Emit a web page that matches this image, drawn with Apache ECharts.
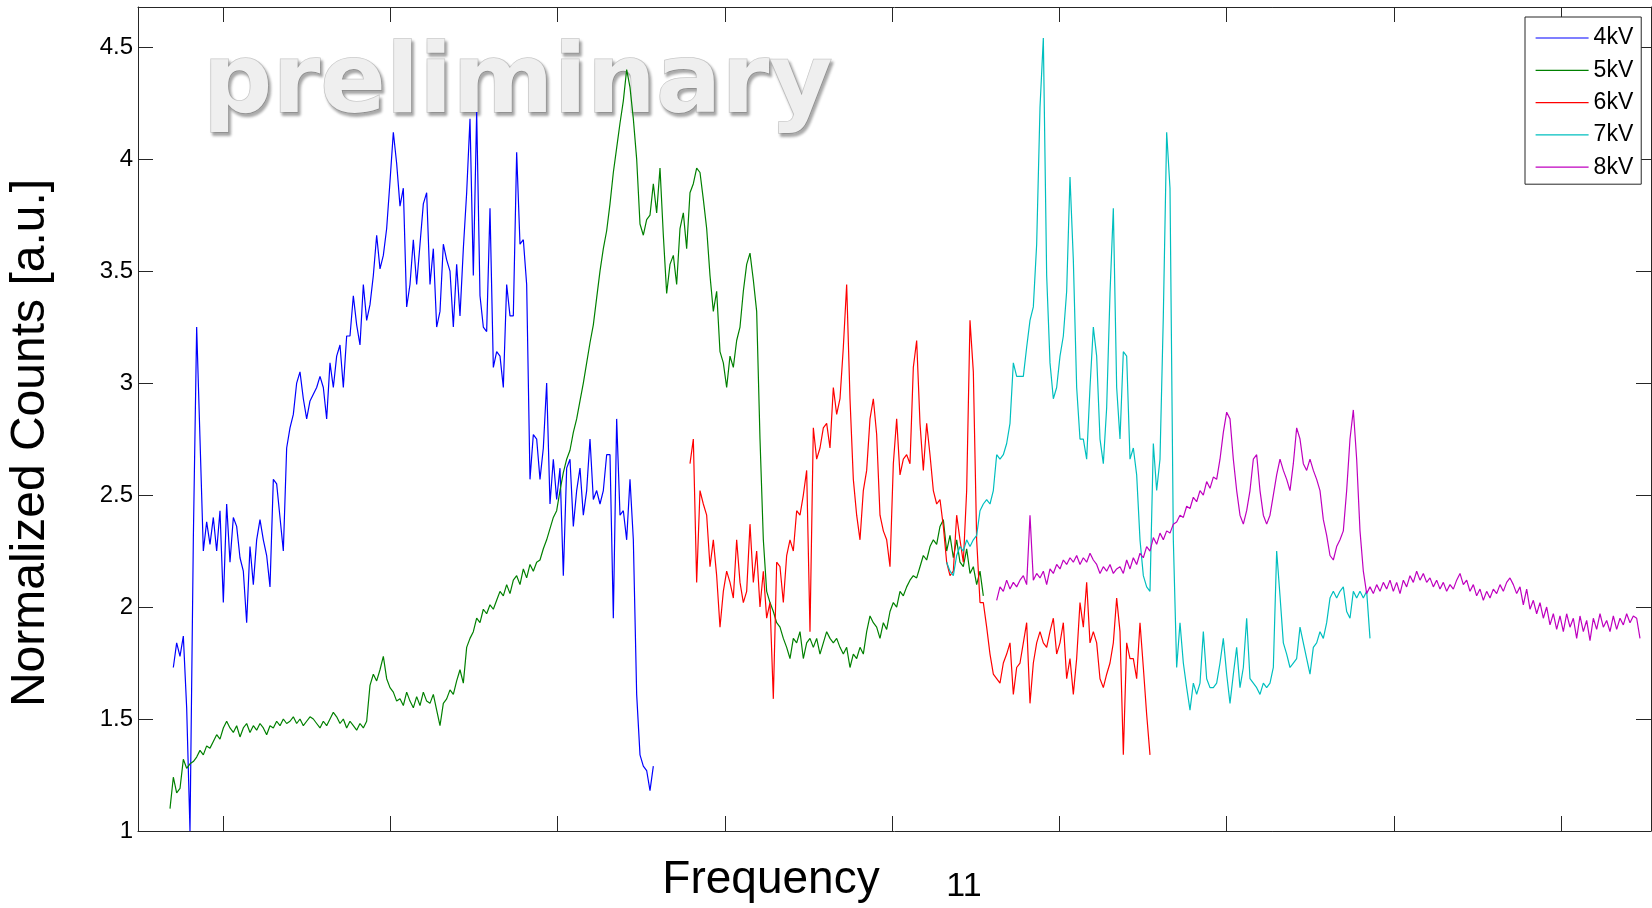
<!DOCTYPE html>
<html><head><meta charset="utf-8">
<script src="https://cdn.jsdelivr.net/npm/echarts@6/dist/echarts.min.js"></script>
<style>html,body{margin:0;padding:0;background:#fff}#c{width:1652px;height:908px}</style>
</head><body><div id="c"></div>
<script>
// ---- data ----
const seriesNames = ['4kV', '5kV', '6kV', '7kV', '8kV'];
const freqStep = 0.01993;
const freqStart = [0.70304, 0.68311, 3.79219, 5.32680, 5.62575];
const xTicks = [1, 2, 3, 4, 5, 6, 7, 8, 9];
const yTicks = [1, 1.5, 2, 2.5, 3, 3.5, 4, 4.5];

const kv4 = [
1.73,1.84,1.78,1.87,1.55,1.00,2.30,3.25,2.75,2.25,
2.38,2.28,2.40,2.25,2.43,2.02,2.46,2.20,2.40,2.36,
2.22,2.16,1.93,2.27,2.10,2.30,2.39,2.30,2.23,2.09,
2.57,2.55,2.40,2.25,2.71,2.80,2.86,3.00,3.05,2.93,
2.84,2.92,2.95,2.98,3.03,2.98,2.84,3.09,2.98,3.12,
3.17,2.98,3.21,3.21,3.39,3.26,3.17,3.44,3.28,3.35,
3.48,3.66,3.51,3.57,3.69,3.90,4.12,3.98,
3.79,3.87,3.34,3.44,3.64,3.44,3.62,3.80,3.85,3.44,
3.60,3.25,3.32,3.62,3.55,3.50,3.25,3.53,3.30,3.60,
3.85,4.18,3.48,4.21,3.39,3.25,3.23,3.78,3.07,3.14,
3.12,2.98,3.44,3.30,3.30,4.03,3.62,3.64,3.44,2.57,
2.77,2.75,2.57,2.71,3.00,2.46,2.66,2.48,2.62,2.14,
2.62,2.66,2.36,2.52,2.62,2.41,2.52,2.75,2.48,2.52,
2.46,2.52,2.68,2.68,1.95,2.84,2.41,2.43,2.30,2.57,
2.30,1.61,
1.34,1.29,1.27,1.18,1.29
];

const kv5 = [
1.10,1.24,1.17,1.19,1.32,1.28,1.30,1.31,1.33,1.36,
1.34,1.38,1.37,1.40,1.43,1.41,1.46,1.49,1.46,1.44,
1.47,1.42,1.46,1.48,1.44,1.47,1.45,1.48,1.46,1.43,
1.47,1.46,1.49,1.47,1.50,1.48,1.49,1.51,1.48,1.50,
1.47,1.49,1.51,1.50,1.48,1.46,1.49,1.47,1.50,1.53,
1.51,1.48,1.50,1.46,1.49,1.47,1.45,1.48,1.46,1.49,
1.65,1.70,1.67,1.72,1.78,1.68,1.64,1.62,1.58,
1.59,1.56,1.62,1.58,1.55,1.60,1.56,1.62,1.58,1.57,
1.61,1.54,1.47,1.57,1.59,1.63,1.61,1.67,1.72,1.66,
1.82,1.86,1.89,1.95,1.93,1.99,1.97,2.01,1.99,2.03,
2.07,2.05,2.10,2.06,2.12,2.14,2.10,2.17,2.13,2.19,
2.16,2.20,2.21,2.26,2.30,2.35,2.40,2.43,2.52,2.60,
2.66,2.70,2.78,2.84,2.92,3.00,3.09,3.18,3.26,3.38,
3.50,3.60,3.68,3.80,3.94,4.05,4.16,4.26,4.40,4.32,
4.18,4.00,
3.71,3.66,3.73,3.75,3.89,3.76,3.96,3.66,3.40,3.53,
3.57,3.44,3.69,3.76,3.60,3.85,3.89,3.96,3.94,3.82,
3.69,3.48,3.32,3.41,3.14,3.09,2.98,3.12,3.07,3.19,
3.25,3.41,3.53,3.58,3.46,3.32,2.75,2.30,2.07,2.02,
1.98,1.93,1.91,1.86,1.82,1.77,1.86,1.84,1.89,1.77,
1.84,1.86,1.82,1.86,1.79,1.84,1.89,1.86,1.84,1.86,
1.82,1.79,1.82,1.73,1.79,1.77,1.82,1.79,1.89,1.96,
1.93,1.91,
1.86,1.93,1.90,1.98,2.02,2.00,2.07,2.05,2.09,2.12,
2.14,2.13,2.18,2.23,2.21,2.27,2.30,2.28,2.36,2.39,
2.25,2.32,2.22,2.30,2.20,2.18,2.26,2.15,2.18,2.10,
2.16,2.05
];

const kv6 = [
2.64,2.75,2.11,2.52,2.46,2.41,2.18,2.30,2.14,1.91,
2.07,2.16,2.11,2.04,2.30,2.11,2.02,2.07,2.37,2.11,
2.25,2.00,2.16,1.95,2.02,1.59,2.20,2.18,2.02,2.23,
2.30,2.25,2.43,2.41,2.50,2.61,1.89,2.80,2.66,2.71,
2.80,2.82,2.71,2.98,2.86,2.93,3.16,3.44,2.93,2.57,
2.41,2.30,2.52,2.61,2.84,2.93,2.77,
2.41,2.34,2.30,2.18,2.64,2.84,2.59,2.66,2.68,2.64,
3.07,3.19,2.82,2.61,2.82,2.68,2.52,2.46,2.48,2.36,
2.20,2.14,2.16,2.41,2.30,2.20,2.52,3.28,3.05,2.30,
2.02,2.02,1.91,1.79,1.70,1.68,1.66,1.75,1.79,1.84,
1.61,1.73,1.75,1.84,1.93,1.57,1.75,1.84,1.89,1.84,
1.82,1.89,1.95,1.79,1.84,1.93,1.68,1.77,1.61,1.77,
2.02,1.91,2.11,1.84,1.89,1.84,1.68,1.64,1.70,1.75,
1.84,2.04,
1.89,1.34,1.84,1.77,1.77,1.68,1.93,1.73,1.52,1.34
];

const kv7 = [
2.20,2.16,2.14,2.23,2.27,2.25,2.30,2.27,2.30,2.32,
2.43,2.46,2.48,2.46,2.52,2.68,2.66,2.68,2.73,2.82,
3.09,3.03,3.03,3.03,3.16,3.28,3.34,3.62,4.23,4.54,
3.48,3.09,2.93,2.98,3.12,3.21,3.41,3.92,3.55,2.98,
2.75,2.75,2.66,2.98,3.25,3.12,2.75,2.64,2.89,3.40,
3.78,2.98,
2.75,3.14,3.12,2.66,2.71,2.59,2.30,2.14,2.09,2.07,
2.73,2.52,2.66,3.30,4.12,3.87,2.30,1.73,1.93,1.75,
1.64,1.54,1.66,1.61,1.66,1.89,1.68,1.64,1.64,1.66,
1.75,1.86,1.70,1.57,1.70,1.82,1.64,1.73,1.95,1.68,
1.66,1.64,1.61,1.66,1.64,1.66,1.73,2.25,2.05,1.84,
1.79,1.73,1.75,1.77,1.91,1.84,1.77,1.70,1.82,1.84,
1.89,1.86,1.93,2.04,2.07,2.04,2.07,2.09,1.98,1.95,
2.07,2.04,
2.07,2.04,2.07,1.86
];

const kv8 = [
2.03,2.09,2.07,2.12,2.08,2.11,2.09,2.12,2.14,2.10,
2.41,2.12,2.15,2.13,2.16,2.10,2.17,2.15,2.19,2.17,
2.21,2.19,2.22,2.20,2.23,2.19,2.22,2.20,2.24,2.21,
2.19,2.15,2.18,2.16,2.19,2.15,2.17,
2.18,2.15,2.21,2.17,2.22,2.19,2.24,2.22,2.27,2.25,
2.31,2.28,2.33,2.30,2.34,2.33,2.37,2.38,2.41,2.40,
2.45,2.44,2.49,2.47,2.52,2.50,2.56,2.53,2.58,2.57,
2.66,2.78,2.87,2.84,2.66,2.52,2.41,2.37,2.43,2.52,
2.66,2.68,2.52,2.41,2.37,2.41,2.50,2.59,2.66,2.61,
2.57,2.52,2.64,2.80,2.75,2.64,2.61,2.66,2.61,2.57,
2.52,2.39,2.32,2.23,2.21,2.27,2.30,2.34,2.52,2.75,
2.88,2.66,
2.34,2.16,2.06,2.09,2.06,2.10,2.07,2.11,2.08,2.12,
2.07,2.11,2.06,2.12,2.09,2.14,2.11,2.16,2.12,2.15,
2.11,2.13,2.09,2.12,2.08,2.11,2.07,2.10,2.08,2.12,
2.15,2.10,2.12,2.07,2.10,2.05,2.08,2.03,2.07,2.04,
2.08,2.06,2.10,2.07,2.11,2.13,2.10,2.06,2.09,2.01,
2.08,1.99,2.03,1.97,2.02,1.95,2.00,1.92,1.97,1.90,
1.96,1.89,1.97,1.91,1.95,1.86,1.96,1.89,1.94,1.85,
1.95,1.90,1.97,1.91,1.94,1.89,1.96,1.90,1.95,1.92,
1.97,1.93,1.96,1.95,1.86
];

const seriesValues = [kv4, kv5, kv6, kv7, kv8];

// ---- styling ----
const lineColors = ['#0000ff', '#008000', '#ff0000', '#00bfbf', '#bf00bf'];
const axisColor = '#262626';
const FONT = '"Liberation Sans", Arial, Helvetica, sans-serif';

function toPairs(start, vals) {
  return vals.map((v, i) => [+(start + i * freqStep).toFixed(5), v]);
}

const chart = echarts.init(document.getElementById('c'), null, { renderer: 'canvas' });

const xBase = {
  type: 'value', min: 0.4918, max: 9.538, gridIndex: 0,
  axisLine: { show: true, onZero: false, lineStyle: { color: axisColor, width: 1 } },
  axisTick: { show: true, inside: true, length: 15, customValues: xTicks, lineStyle: { color: axisColor, width: 1 } },
  axisLabel: { show: false },
  splitLine: { show: false }
};
const yBase = {
  type: 'value', min: 1, max: 4.679, gridIndex: 0,
  axisLine: { show: true, onZero: false, lineStyle: { color: axisColor, width: 1 } },
  axisTick: { show: true, inside: true, length: 15, customValues: yTicks, lineStyle: { color: axisColor, width: 1 } },
  splitLine: { show: false }
};

const option = {
  animation: false,
  backgroundColor: '#ffffff',
  grid: { left: 138, right: 1, top: 7, bottom: 77, containLabel: false },
  xAxis: [
    Object.assign({}, xBase, { position: 'bottom' }),
    Object.assign({}, xBase, { position: 'top' })
  ],
  yAxis: [
    Object.assign({}, yBase, {
      position: 'left',
      axisLabel: { show: true, customValues: yTicks, fontSize: 24, color: '#000', fontFamily: FONT, margin: 5,
        formatter: v => String(v) }
    }),
    Object.assign({}, yBase, { position: 'right', axisLabel: { show: false } })
  ],
  legend: {
    orient: 'vertical', left: 1525, top: 17,
    padding: [9, 8, 5, 10],
    itemWidth: 53, itemHeight: 24, itemGap: 8.3,
    backgroundColor: '#ffffff', borderColor: axisColor, borderWidth: 1, borderRadius: 0,
    selectedMode: false,
    itemStyle: { opacity: 0 },
    lineStyle: { width: 1.2 },
    textStyle: { fontSize: 23, color: '#000', fontFamily: FONT, lineHeight: 24 },
    data: seriesNames
  },
  graphic: [
    {
      type: 'text', x: 203, y: 87, z: 0, silent: true,
      style: {
        text: 'preliminary',
        font: 'bold 97px "DejaVu Sans", Verdana, sans-serif',
        fill: '#efefef', stroke: '#c9c9c9', lineWidth: 1.5,
        align: 'left', verticalAlign: 'middle',
        textShadowColor: 'rgba(0,0,0,0.32)', textShadowBlur: 3,
        textShadowOffsetX: 2, textShadowOffsetY: 3
      }
    },
    {
      type: 'text', x: 31, y: 443, rotation: Math.PI / 2, z: 50, silent: true,
      style: { text: 'Normalized Counts [a.u.]', font: '48px ' + FONT, fill: '#000',
        align: 'center', verticalAlign: 'middle' }
    },
    {
      type: 'text', x: 771, y: 880, z: 50, silent: true,
      style: { text: 'Frequency', font: '46px ' + FONT, fill: '#000',
        align: 'center', verticalAlign: 'middle' }
    },
    {
      type: 'text', x: 964, y: 887, z: 50, silent: true,
      style: { text: '11', font: '34px ' + FONT, fill: '#000',
        align: 'center', verticalAlign: 'middle' }
    }
  ],
  series: seriesNames.map((name, i) => ({
    name: name,
    type: 'line',
    xAxisIndex: 0, yAxisIndex: 0,
    data: toPairs(freqStart[i], seriesValues[i]),
    showSymbol: false, symbol: 'none',
    lineStyle: { color: lineColors[i], width: 1.2 },
    itemStyle: { color: lineColors[i] },
    z: 3 + i
  }))
};

chart.setOption(option);
</script>
</body></html>
